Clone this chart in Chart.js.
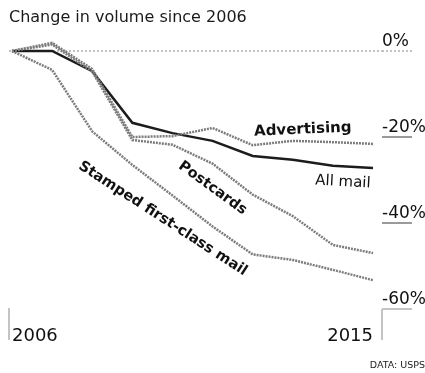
<!DOCTYPE html>
<html>
<head>
<meta charset="utf-8">
<script src="https://cdn.jsdelivr.net/npm/chart.js@4"></script>
<style>
  html, body { margin: 0; padding: 0; background: #ffffff; }
  #wrap { width: 425px; height: 373px; position: relative; }
</style>
</head>
<body>
<div id="wrap"><canvas id="c"></canvas></div>
<script>
// ---- data ----
const years = [2006, 2007, 2008, 2009, 2010, 2011, 2012, 2013, 2014, 2015];
const allMail     = [0, 0.0, -4.7, -16.7, -19.1, -20.9, -24.4, -25.3, -26.7, -27.2];
const advertising = [0, 1.9, -4.2, -20.0, -19.8, -17.9, -21.9, -20.9, -21.2, -21.6];
const postcards   = [0, 1.5, -4.8, -20.7, -21.8, -26.2, -33.4, -38.4, -45.1, -47.0];
const stamped     = [0, -4.4, -18.7, -26.5, -33.6, -40.8, -47.3, -48.6, -50.9, -53.3];
const yTickValues = [0, -20, -40, -60];
const xTickLabels = ['2006', '2015'];
const seriesNames = ['Advertising', 'All mail', 'Postcards', 'Stamped first-class mail'];

// ---- label placement (data units) ----
const labelSpecs = [
  { text: seriesNames[0], x: 2013.25, y: -18.3, angle: -2.5, bold: true,  size: 15 },
  { text: seriesNames[1], x: 2014.25, y: -30.5, angle: 3,    bold: false, size: 15 },
  { text: seriesNames[2], x: 2011.0,  y: -31.9, angle: 36,   bold: true,  size: 14.5 },
  { text: seriesNames[3], x: 2009.76, y: -39.0, angle: 33,   bold: true,  size: 14.5 }
];

const FONT = "'DejaVu Sans', sans-serif";
const GREY = '#7c7c7c';
const DARK = '#1c1c1c';

const pts = arr => arr.map((v, i) => ({ x: years[i], y: v }));

const labelPlugin = {
  id: 'seriesLabels',
  afterDatasetsDraw(chart) {
    const ctx = chart.ctx, xs = chart.scales.x, ys = chart.scales.y;
    ctx.save();
    ctx.fillStyle = '#111';
    ctx.textAlign = 'center';
    ctx.textBaseline = 'middle';
    labelSpecs.forEach(l => {
      const px = xs.getPixelForValue(l.x), py = ys.getPixelForValue(l.y);
      ctx.save();
      ctx.translate(px, py);
      ctx.rotate(l.angle * Math.PI / 180);
      ctx.font = (l.bold ? 'bold ' : '') + l.size + 'px ' + FONT;
      ctx.fillText(l.text, 0, 0);
      ctx.restore();
    });
    ctx.restore();
  }
};

const bracketPlugin = {
  id: 'axisBrackets',
  beforeDatasetsDraw(chart) {
    const ctx = chart.ctx, a = chart.chartArea;
    ctx.save();
    ctx.strokeStyle = '#c4c4c4';
    ctx.lineWidth = 2;
    ctx.beginPath();
    ctx.moveTo(a.left, a.bottom - 1); ctx.lineTo(a.left, a.bottom + 31);
    ctx.moveTo(a.right, a.bottom); ctx.lineTo(a.right, a.bottom + 31);
    ctx.stroke();
    ctx.restore();
  }
};

const greyLine = (label, data) => ({
  label, data: pts(data),
  borderColor: GREY, borderWidth: 2.5, borderDash: [2, 1],
  pointRadius: 0, tension: 0, fill: false, clip: false
});

new Chart(document.getElementById('c'), {
  type: 'line',
  data: {
    datasets: [
      greyLine(seriesNames[3], stamped),
      greyLine(seriesNames[2], postcards),
      greyLine(seriesNames[0], advertising),
      { label: seriesNames[1], data: pts(allMail), borderColor: DARK, borderWidth: 2.5,
        pointRadius: 0, tension: 0, fill: false, clip: false }
    ]
  },
  options: {
    responsive: true,
    maintainAspectRatio: false,
    animation: false,
    layout: { padding: { left: 9, right: 0, top: 0, bottom: 0 } },
    plugins: {
      legend: { display: false },
      tooltip: { enabled: false },
      title: {
        display: true, text: 'Change in volume since 2006', align: 'start',
        color: '#1a1a1a', font: { family: FONT, size: 16, weight: 'normal', lineHeight: 1.2 },
        padding: { top: 8, bottom: 2.8 }
      },
      subtitle: {
        display: true, position: 'bottom', text: 'DATA: USPS', align: 'end',
        color: '#222', font: { family: FONT, size: 9.5, weight: 'normal', lineHeight: 1.2 },
        padding: { top: 15.3, bottom: 1.3 }
      }
    },
    scales: {
      x: {
        type: 'linear', position: 'bottom',
        min: 2005.925, max: 2015.224,
        grid: { display: false },
        border: { display: false },
        afterBuildTicks: s => { s.ticks = [{ value: years[0] }, { value: years[years.length - 1] }]; },
        afterFit: s => { s.height = 36; s.paddingLeft = 0; s.paddingRight = 0; },
        ticks: {
          align: 'inner', padding: 9, maxRotation: 0, autoSkip: false,
          color: '#111', font: { family: FONT, size: 18 },
          callback: (v, i) => xTickLabels[i]
        }
      },
      y: {
        type: 'linear', position: 'right',
        min: -60, max: 4.884,
        afterBuildTicks: s => { s.ticks = yTickValues.map(v => ({ value: v })); },
        afterFit: s => { s.width = 43; s.paddingTop = 0; s.paddingBottom = 0; },
        border: { display: false, dash: [2, 2] },
        grid: {
          drawOnChartArea: true, drawTicks: true, tickLength: 30,
          lineWidth: 2, tickWidth: 2,
          color: c => (c.tick && c.tick.value === 0) ? '#c2c2c2' : 'rgba(0,0,0,0)',
          tickColor: c => {
            if (!c.tick) return 'rgba(0,0,0,0)';
            if (c.tick.value === 0) return '#c2c2c2';
            if (c.tick.value === -60) return '#c4c4c4';
            return '#9a9a9a';
          },
          tickBorderDash: c => (c.tick && c.tick.value === 0) ? [2, 2] : []
        },
        ticks: {
          padding: -30, labelOffset: -9, crossAlign: 'near',
          color: '#111', font: { family: FONT, size: 17 },
          callback: v => v + '%'
        }
      }
    }
  },
  plugins: [bracketPlugin, labelPlugin]
});
</script>
</body>
</html>
